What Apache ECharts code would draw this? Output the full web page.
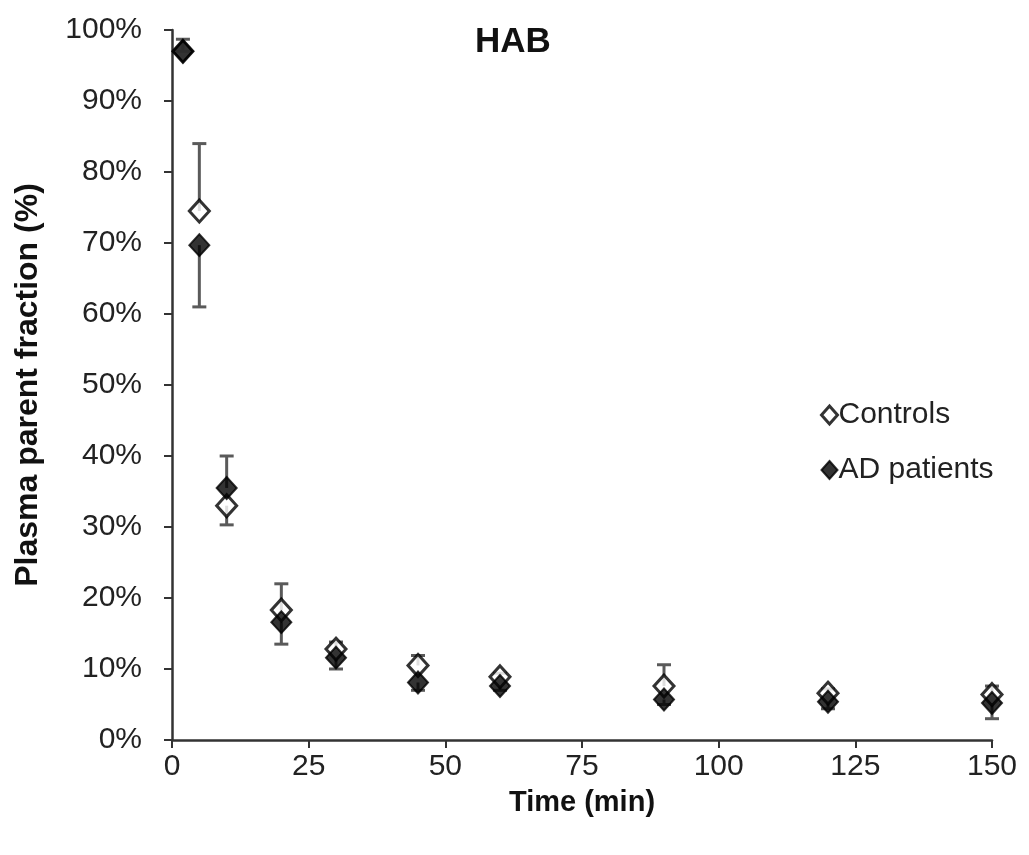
<!DOCTYPE html>
<html>
<head>
<meta charset="utf-8">
<title>HAB plasma parent fraction</title>
<script src="https://cdn.jsdelivr.net/npm/echarts@6/dist/echarts.min.js"></script>
<style>
  html, body { margin: 0; padding: 0; background: #fff; }
  #chart { width: 1029px; height: 855px; }
</style>
</head>
<body>
<div id="chart"></div>
<script>
/* =========================================
   DATA
   ========================================= */
const times = [2, 5, 10, 20, 30, 45, 60, 90, 120, 150];
const controlsMean = [97, 74.5, 33, 18.3, 12.8, 10.5, 8.9, 7.6, 6.6, 6.4];
const controlsLimit = [98.7, 84, 30.3, 22, 13.8, 11.9, 9.4, 10.6, 7.2, 7.6];
const patientsMean = [97, 69.7, 35.5, 16.6, 11.6, 8.1, 7.6, 5.7, 5.4, 5.2];
const patientsLimit = [97, 61, 40, 13.5, 10, 7, 7, 5, 4.4, 3];
const xTicks = [0, 25, 50, 75, 100, 125, 150];

/* =========================================
   CHART
   ========================================= */
function pairs(xs, ys) {
  return xs.map((x, i) => [x, ys[i]]);
}

function errorData(means, limits) {
  return times.map((t, i) => [t, means[i], limits[i]]);
}

// one-sided error bar: from the mean to the limit, cap at the limit
function renderErrorBar(params, api) {
  const from = api.coord([api.value(0), api.value(1)]);
  const to = api.coord([api.value(0), api.value(2)]);
  const cap = 7;
  const style = { stroke: "#5a5a5a", lineWidth: 3, fill: "none" };
  return {
    type: "group",
    children: [
      { type: "line", shape: { x1: from[0], y1: from[1], x2: to[0], y2: to[1] }, style: style },
      { type: "line", shape: { x1: to[0] - cap, y1: to[1], x2: to[0] + cap, y2: to[1] }, style: style }
    ]
  };
}

function initChart() {
  const chart = echarts.init(document.getElementById("chart"), null, { renderer: "canvas" });
  const font = "Liberation Sans, Arial, sans-serif";

  const option = {
    backgroundColor: "#fff",
    animation: false,
    textStyle: { fontFamily: font },
    title: {
      text: "HAB",
      left: 470,
      top: 20,
      textStyle: { fontFamily: font, fontSize: 35, fontWeight: "bold", color: "#111" }
    },
    legend: {
      orient: "vertical",
      left: 815,
      top: 394,
      itemGap: 23,
      itemWidth: 16,
      itemHeight: 18,
      textStyle: { fontFamily: font, fontSize: 30, lineHeight: 32, color: "#222", padding: [0, 0, 0, -4] },
      data: [
        { name: "Controls", icon: "diamond", itemStyle: { color: "#fff", borderColor: "#000", borderWidth: 3 } },
        { name: "AD patients", icon: "diamond", itemStyle: { color: "#000", borderColor: "#000", borderWidth: 2 } }
      ]
    },
    grid: { left: 172, right: 37, top: 30, bottom: 115 },
    xAxis: {
      type: "value",
      min: 0,
      max: 150,
      interval: 25,
      name: "Time (min)",
      nameLocation: "middle",
      nameGap: 48,
      nameTextStyle: { fontFamily: font, fontSize: 29, fontWeight: "bold", color: "#111" },
      axisLine: { lineStyle: { color: "#333", width: 2.5 } },
      axisTick: { show: true, inside: false, length: 8, lineStyle: { color: "#333", width: 2 } },
      axisLabel: {
        fontSize: 30,
        color: "#222",
        margin: 12,
        formatter: (v) => (xTicks.includes(v) ? String(v) : "")
      },
      splitLine: { show: false }
    },
    yAxis: {
      type: "value",
      min: 0,
      max: 100,
      interval: 10,
      name: "Plasma parent fraction (%)",
      nameLocation: "middle",
      nameGap: 128,
      nameRotate: 90,
      nameTextStyle: { fontFamily: font, fontSize: 32, fontWeight: "bold", color: "#111" },
      axisLine: { show: true, lineStyle: { color: "#333", width: 2.5 } },
      axisTick: { show: true, inside: false, length: 8, lineStyle: { color: "#333", width: 2 } },
      axisLabel: { fontSize: 30, color: "#222", margin: 30, formatter: "{value}%" },
      splitLine: { show: false }
    },
    series: [
      {
        name: "Controls error",
        type: "custom",
        renderItem: renderErrorBar,
        data: errorData(controlsMean, controlsLimit),
        z: 1,
        silent: true
      },
      {
        name: "AD error",
        type: "custom",
        renderItem: renderErrorBar,
        data: errorData(patientsMean, patientsLimit),
        z: 1,
        silent: true
      },
      {
        name: "Controls",
        type: "scatter",
        symbol: "diamond",
        symbolSize: [20, 22],
        data: pairs(times, controlsMean),
        itemStyle: { color: "#fff", borderColor: "#000", borderWidth: 3 },
        z: 3
      },
      {
        name: "AD patients",
        type: "scatter",
        symbol: "diamond",
        symbolSize: [20, 22],
        data: pairs(times, patientsMean),
        itemStyle: { color: "#000", borderColor: "#000", borderWidth: 2 },
        z: 4
      }
    ]
  };

  chart.setOption(option);
  window.addEventListener("resize", () => chart.resize());
}

document.addEventListener("DOMContentLoaded", initChart);
</script>
</body>
</html>
